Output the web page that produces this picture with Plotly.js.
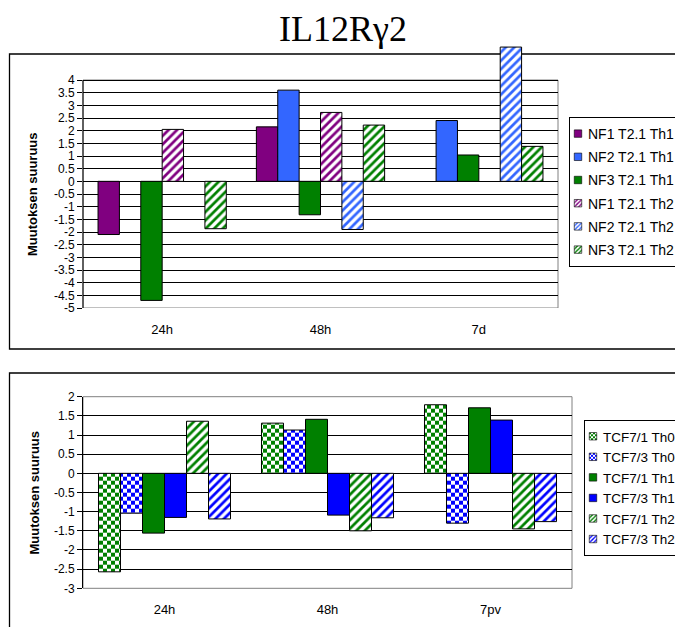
<!DOCTYPE html>
<html>
<head>
<meta charset="utf-8">
<script src="https://cdn.plot.ly/plotly-3.0.1.min.js"></script>
<style>
  html, body { margin: 0; padding: 0; background: #fff; }
  #plot { width: 675px; height: 627px; }
</style>
</head>
<body>
<div id="plot"></div>
<script>
// ---------- data ----------
const chartTitle = 'IL12R\u03b32';
const yTitle = 'Muutoksen suuruus';

const topCategories = ['24h', '48h', '7d'];
const topNames = ['NF1 T2.1 Th1', 'NF2 T2.1 Th1', 'NF3 T2.1 Th1', 'NF1 T2.1 Th2', 'NF2 T2.1 Th2', 'NF3 T2.1 Th2'];
const nf1Th1 = [-2.1, 2.15, null];
const nf2Th1 = [null, 3.6, 2.4];
const nf3Th1 = [-4.7, -1.32, 1.04];
const nf1Th2 = [2.05, 2.72, null];
const nf2Th2 = [null, -1.9, 5.3];
const nf3Th2 = [-1.87, 2.22, 1.38];

const bottomCategories = ['24h', '48h', '7pv'];
const bottomNames = ['TCF7/1 Th0', 'TCF7/3 Th0', 'TCF7/1 Th1', 'TCF7/3 Th1', 'TCF7/1 Th2', 'TCF7/3 Th2'];
const tcf71Th0 = [-2.57, 1.31, 1.79];
const tcf73Th0 = [-1.04, 1.13, -1.3];
const tcf71Th1 = [-1.56, 1.41, 1.71];
const tcf73Th1 = [-1.15, -1.09, 1.39];
const tcf71Th2 = [1.36, -1.5, -1.45];
const tcf73Th2 = [-1.19, -1.16, -1.26];

const topTickVals = [-5, -4.5, -4, -3.5, -3, -2.5, -2, -1.5, -1, -0.5, 0, 0.5, 1, 1.5, 2, 2.5, 3, 3.5, 4];
const topTickText = ['-5', '-4.5', '-4', '-3.5', '-3', '-2.5', '-2', '-1.5', '-1', '-0.5', '0', '0.5', '1', '1.5', '2', '2.5', '3', '3.5', '4'];
const bottomTickVals = [-3, -2.5, -2, -1.5, -1, -0.5, 0, 0.5, 1, 1.5, 2];
const bottomTickText = ['-3', '-2.5', '-2', '-1.5', '-1', '-0.5', '0', '0.5', '1', '1.5', '2'];

// ---------- styling ----------
const W = 675, H = 627;
const px = v => v / W;
const py = v => 1 - v / H;

const PURPLE = '#800080', BLUE1 = '#3366FF', GREEN = '#008000', BLUE2 = '#0000FF';
const FONT = 'Liberation Sans, Arial, sans-serif';

function solid(color) {
  return { color: color, line: { color: '#000', width: 1 } };
}
function hatch(color) {
  return { color: color, line: { color: '#000', width: 1 },
           pattern: { shape: '/', fgcolor: color, bgcolor: '#fff', size: 6, solidity: 0.45, fillmode: 'replace' } };
}
function checker(color) {
  return { color: color, line: { color: '#000', width: 1 },
           pattern: { shape: '.', fgcolor: color, bgcolor: '#fff', size: 8, solidity: 0.5, fillmode: 'replace' } };
}

const topSeries = [nf1Th1, nf2Th1, nf3Th1, nf1Th2, nf2Th2, nf3Th2];
const topMarkers = [solid(PURPLE), solid(BLUE1), solid(GREEN), hatch(PURPLE), hatch(BLUE1), hatch(GREEN)];
const bottomSeries = [tcf71Th0, tcf73Th0, tcf71Th1, tcf73Th1, tcf71Th2, tcf73Th2];
const bottomMarkers = [checker(GREEN), checker(BLUE2), solid(GREEN), solid(BLUE2), hatch(GREEN), hatch(BLUE2)];

const traces = [];
topSeries.forEach((vals, i) => {
  traces.push({
    type: 'bar', x: topCategories, y: vals, name: topNames[i],
    marker: topMarkers[i], xaxis: 'x', yaxis: 'y', legend: 'legend',
    legendgroup: 't' + i, hoverinfo: 'skip'
  });
});
bottomSeries.forEach((vals, i) => {
  traces.push({
    type: 'bar', x: bottomCategories, y: vals, name: bottomNames[i],
    marker: bottomMarkers[i], xaxis: 'x2', yaxis: 'y2', legend: 'legend2',
    legendgroup: 'b' + i, hoverinfo: 'skip'
  });
});

// top panel: -5 at 308px, 4 at 80px; the range runs above 4 so the tall bar can overshoot the frame
const topUnit = (308 - 80) / 9;
const topRange = [-5, 5.35];
const topY = [py(308), py(308 - topUnit * (topRange[1] - topRange[0]))];
const botY = [py(588.3), py(396.7)];

function yAxis(domain, range, vals, text, line) {
  return {
    domain: domain, range: range, tickvals: vals, ticktext: text,
    showgrid: true, gridcolor: '#000', gridwidth: 1,
    zeroline: true, zerolinecolor: '#000', zerolinewidth: 1,
    showline: line, linecolor: '#000', linewidth: 1,
    ticks: 'outside', ticklen: 5, tickcolor: '#000', tickwidth: 1,
    tickfont: { family: FONT, size: 12, color: '#000' },
    fixedrange: true
  };
}
function xAxis(domain, anchor) {
  return {
    domain: domain, anchor: anchor, type: 'category',
    showgrid: false, zeroline: false, showline: false,
    ticks: '', ticklabelstandoff: 12,
    tickfont: { family: FONT, size: 13, color: '#000' },
    fixedrange: true
  };
}

const layout = {
  width: W, height: H,
  margin: { l: 0, r: 0, t: 0, b: 0, pad: 0, autoexpand: false },
  paper_bgcolor: '#fff', plot_bgcolor: 'rgba(0,0,0,0)',
  showlegend: true,
  barmode: 'group', bargap: 0.19, bargroupgap: 0,
  title: { text: chartTitle, font: { family: 'Liberation Serif, Times New Roman, serif', size: 36, color: '#000' },
           x: px(343), xanchor: 'center', xref: 'paper', y: py(28), yanchor: 'middle', yref: 'paper' },
  xaxis: xAxis([px(83), px(558)], 'y'),
  yaxis: yAxis(topY, topRange, topTickVals, topTickText, false),
  xaxis2: xAxis([px(83), px(572)], 'y2'),
  yaxis2: yAxis(botY, [-3, 2], bottomTickVals, bottomTickText, true),
  xaxis3: {
    domain: [px(83), px(572)], overlaying: 'x2', anchor: 'free',
    position: botY[0] + (0 - (-3)) / 5 * (botY[1] - botY[0]),
    type: 'linear', range: [0, 3], tickvals: [0, 1, 2, 3],
    ticks: 'outside', ticklen: 5, tickcolor: '#000', showticklabels: false,
    showgrid: false, zeroline: false, showline: false, fixedrange: true
  },
  legend: {
    x: px(569), y: py(117), xanchor: 'left', yanchor: 'top',
    bgcolor: '#fff', bordercolor: '#000', borderwidth: 1,
    font: { family: FONT, size: 14, color: '#000' },
    traceorder: 'grouped', tracegroupgap: 2
  },
  legend2: {
    x: px(584), y: py(420), xanchor: 'left', yanchor: 'top',
    bgcolor: '#fff', bordercolor: '#000', borderwidth: 1,
    font: { family: FONT, size: 13.5, color: '#000' },
    traceorder: 'grouped', tracegroupgap: 0
  },
  annotations: [
    { text: '<b>' + yTitle + '</b>', textangle: -90, showarrow: false,
      x: px(32), y: py(194), xref: 'paper', yref: 'paper',
      xanchor: 'center', yanchor: 'middle', font: { family: FONT, size: 13, color: '#000' } },
    { text: '<b>' + yTitle + '</b>', textangle: -90, showarrow: false,
      x: px(34), y: (botY[0] + botY[1]) / 2, xref: 'paper', yref: 'paper',
      xanchor: 'center', yanchor: 'middle', font: { family: FONT, size: 13, color: '#000' } }
  ],
  shapes: [
    // chart-area frames
    { type: 'rect', xref: 'paper', yref: 'paper', x0: px(9.5), x1: 1.02, y0: py(349), y1: py(54),
      line: { color: '#000', width: 1.3 }, fillcolor: 'rgba(0,0,0,0)', layer: 'below' },
    { type: 'rect', xref: 'paper', yref: 'paper', x0: px(9.5), x1: 1.02, y0: -0.02, y1: py(373),
      line: { color: '#000', width: 1.3 }, fillcolor: 'rgba(0,0,0,0)', layer: 'below' },
    // plot-area borders
    { type: 'rect', xref: 'x domain', yref: 'y', x0: 0, x1: 1, y0: -5, y1: 4,
      line: { color: '#808080', width: 1 }, fillcolor: 'rgba(0,0,0,0)', layer: 'below' },
    { type: 'rect', xref: 'x2 domain', yref: 'y2 domain', x0: 0, x1: 1, y0: 0, y1: 1,
      line: { color: '#808080', width: 1 }, fillcolor: 'rgba(0,0,0,0)', layer: 'below' },
    // top value-axis line (stops at 4)
    { type: 'line', xref: 'x domain', yref: 'y', x0: 0, x1: 0, y0: -5, y1: 4,
      line: { color: '#000', width: 1 }, layer: 'above' }
  ]
};

Plotly.newPlot('plot', traces, layout, { displayModeBar: false, staticPlot: true }).then(function () {
  const NS = 'http://www.w3.org/2000/svg';
  // turn the dot pattern into a checkerboard tile
  document.querySelectorAll('#plot pattern').forEach(function (p) {
    const c = p.querySelector('circle');
    if (!c) return;
    const col = c.getAttribute('fill') || c.style.fill;
    const w = parseFloat(p.getAttribute('width'));
    const h = parseFloat(p.getAttribute('height'));
    c.remove();
    [[0, 0], [w / 2, h / 2]].forEach(function (o) {
      const r = document.createElementNS(NS, 'rect');
      r.setAttribute('x', o[0]); r.setAttribute('y', o[1]);
      r.setAttribute('width', w / 2); r.setAttribute('height', h / 2);
      r.setAttribute('fill', col);
      p.appendChild(r);
    });
  });
  // compact legend swatches like the original (small square, text close to it)
  document.querySelectorAll('#plot .legendpoints path').forEach(function (el) {
    el.setAttribute('transform', 'translate(8,0) scale(0.62)');
  });
  document.querySelectorAll('#plot text.legendtext, #plot text.legend2text').forEach(function (el) {
    const x = parseFloat(el.getAttribute('x')) || 0;
    el.setAttribute('x', x - 22);
  });
});
</script>
</body>
</html>
